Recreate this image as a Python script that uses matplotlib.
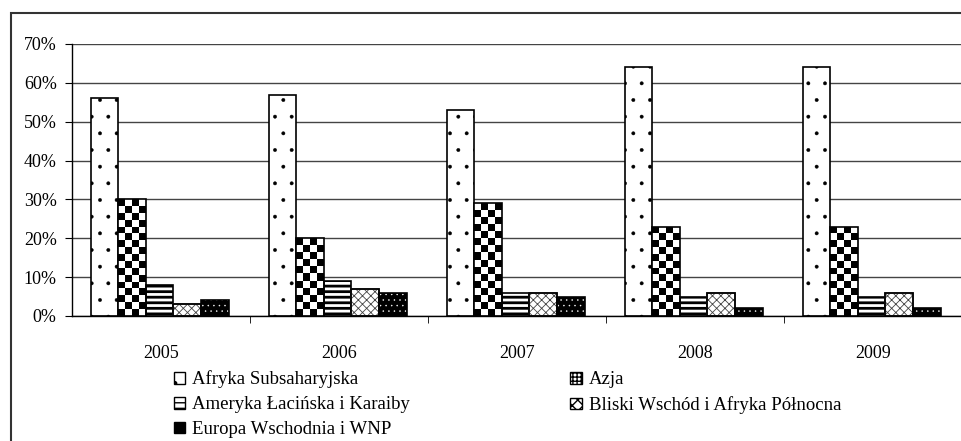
import matplotlib

matplotlib.use("Agg")
import matplotlib.pyplot as plt
import numpy as np
from matplotlib.patches import Patch, Rectangle
from matplotlib.ticker import FixedLocator, PercentFormatter

years = ["2005", "2006", "2007", "2008", "2009"]
regions = [
    "Afryka Subsaharyjska",
    "Azja",
    "Ameryka Łacińska i Karaiby",
    "Bliski Wschód i Afryka Północna",
    "Europa Wschodnia i WNP",
]
afryka = [56, 57, 53, 64, 64]
azja = [30, 20, 29, 23, 23]
ameryka = [8, 9, 6, 5, 5]
bliski = [3, 7, 6, 6, 6]
europa = [4, 6, 5, 2, 2]
series = [afryka, azja, ameryka, bliski, europa]

plt.rcParams["font.family"] = ["Liberation Serif", "DejaVu Serif"]
plt.rcParams["font.size"] = 12

fig = plt.figure(figsize=(9.62, 4.41), dpi=100)
ax = fig.add_axes([72 / 962, 1 - 316 / 441, 890 / 962, (316 - 44) / 441])

x = np.arange(len(years))
w = 0.155
offs = (np.arange(len(series)) - 2) * w - 0.008


def draw_checker(ax, bar, cols=4, sq=1.8):
    x0, y0 = bar.get_x(), bar.get_y()
    bw, bh = bar.get_width(), bar.get_height()
    rows = max(1, int(round(bh / sq)))
    grid = np.indices((rows, cols)).sum(axis=0) % 2
    im = ax.imshow(grid, cmap="gray", interpolation="nearest", aspect="auto",
                   extent=(x0, x0 + bw, y0, y0 + bh), origin="lower", zorder=2)
    im.set_clip_path(bar)


# Afryka Subsaharyjska: sparse dots
with plt.rc_context({"hatch.linewidth": 0.3}):
    ax.bar(x + offs[0], afryka, w, facecolor="white", edgecolor="black",
           hatch=".", linewidth=1.2, zorder=2)

# Azja: checkerboard
bars = ax.bar(x + offs[1], azja, w, facecolor="white", edgecolor="black",
              linewidth=1.2, zorder=3)
for b in bars:
    draw_checker(ax, b)
    b.set_facecolor("none")

# Ameryka: horizontal stripes
with plt.rc_context({"hatch.linewidth": 2.0}):
    ax.bar(x + offs[2], ameryka, w, facecolor="white", edgecolor="black",
           hatch="---", linewidth=1.2, zorder=2)

# Bliski Wschod: weave
with plt.rc_context({"hatch.linewidth": 0.6}):
    ax.bar(x + offs[3], bliski, w, facecolor="white", edgecolor="#444444",
           hatch="xxxx", linewidth=1.2, zorder=2)
    ax.bar(x + offs[3], bliski, w, facecolor="none", edgecolor="black",
           linewidth=1.2, zorder=3)

# Europa: black with white dots
with plt.rc_context({"hatch.linewidth": 0.3}):
    ax.bar(x + offs[4], europa, w, facecolor="black", edgecolor="white",
           hatch="...", linewidth=0, zorder=2)
ax.bar(x + offs[4], europa, w, facecolor="none", edgecolor="black",
       linewidth=1.2, zorder=3)

ax.set_xlim(-0.5, len(years) - 0.5)
ax.set_ylim(0, 70)
ax.yaxis.set_major_locator(FixedLocator(np.arange(0, 71, 10)))
ax.yaxis.set_major_formatter(PercentFormatter(decimals=0))
ax.set_xticks(x)
ax.set_xticklabels(years)
ax.xaxis.set_minor_locator(FixedLocator(np.arange(0.5, len(years) - 0.5, 1)))
ax.tick_params(axis="x", which="major", length=0, pad=21, labelsize=13)
ax.tick_params(axis="x", which="minor", length=5, direction="out")
ax.tick_params(axis="y", length=5, direction="out", labelsize=13, pad=6)
ax.grid(axis="y", color="#444444", linewidth=1.0)
ax.set_axisbelow(True)
for s in ["top", "right"]:
    ax.spines[s].set_visible(False)
for s in ["left", "bottom"]:
    ax.spines[s].set_linewidth(1.0)

# legend proxies (column-first order)
h_afr = Patch(facecolor="white", edgecolor="black", hatch=".")
h_azj = Patch(facecolor="white", edgecolor="black", hatch="++++")
h_ame = Patch(facecolor="white", edgecolor="black", hatch="---")
h_bli = Patch(facecolor="white", edgecolor="black", hatch="xxx")
h_eur = Patch(facecolor="black", edgecolor="black", hatch="..")
handles = [h_afr, h_ame, h_eur, h_azj, h_bli]
labels = [regions[0], regions[2], regions[4], regions[1], regions[3]]
fig.legend(handles, labels, ncol=2, frameon=False, loc="upper left",
           bbox_to_anchor=(166 / 962, 1 - 363 / 441), fontsize=13.5,
           handlelength=0.6, handleheight=0.6, handletextpad=0.4,
           labelspacing=0.42, columnspacing=8.55, borderaxespad=0)

# outer frame
fig.patches.append(Rectangle((11 / 962, -0.1), 1.0, 1 - 13 / 441 + 0.1,
                             transform=fig.transFigure, fill=False,
                             edgecolor="#333333", linewidth=1.5))

fig.savefig("out.png", dpi=100)
